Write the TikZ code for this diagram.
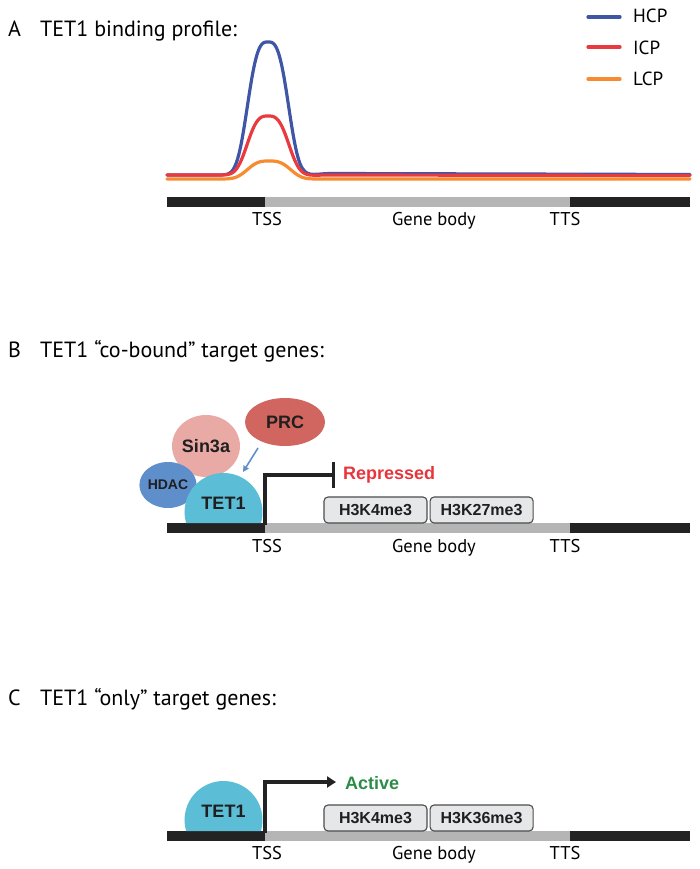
\documentclass[tikz,border=0pt]{standalone}
\usepackage{fontspec}
\setmainfont{PT Sans}
\newfontfamily\protfont{Liberation Sans}
\usetikzlibrary{arrows.meta, shapes.geometric, positioning}

\definecolor{hcpblue}{HTML}{3F56A6}
\definecolor{icpred}{HTML}{E93A3F}
\definecolor{lcporange}{HTML}{F68B2F}
\definecolor{barblack}{HTML}{232323}
\definecolor{bargray}{HTML}{B5B5B5}
\definecolor{prccol}{HTML}{D0665F}
\definecolor{sincol}{HTML}{E9AAA6}
\definecolor{hdaccol}{HTML}{5E8FCB}
\definecolor{tetcol}{HTML}{5CBED6}
\definecolor{boxgray}{HTML}{E6E7E8}
\definecolor{repred}{HTML}{E8343B}
\definecolor{actgreen}{HTML}{2C8C47}

\begin{document}
\begin{tikzpicture}[x=1pt, y=-1pt,
    heading/.style={anchor=base west, inner sep=0pt, font=\fontsize{22}{26}\selectfont},
    sitelabel/.style={anchor=base, inner sep=0pt, font=\fontsize{18.5}{22}\selectfont},
    legendlabel/.style={anchor=base west, inner sep=0pt, font=\fontsize{19}{22}\selectfont},
    protlabel/.style={inner sep=0pt, text=black!88, font=\protfont\bfseries\fontsize{18}{20}\selectfont},
    protein/.style={protlabel, ellipse},
    histbox/.style={draw=black!70, fill=boxgray, rounded corners=4pt, line width=1.1pt,
        minimum width=103pt, minimum height=26pt, inner sep=0pt, text=black!88,
        font=\protfont\bfseries\fontsize{16}{18}\selectfont},
    profile/.style={line width=3.2pt, line join=round, line cap=round},
    promoter/.style={line width=3.5pt, draw=barblack}]
    \useasboundingbox (0,0) rectangle (700,869);

    % panel A: binding profile over the gene
    \node[heading] (headA) at (8,37) {A};
    \node[heading] (titleA) at (40,37) {TET1 binding profile:};

    % legend
    \node[legendlabel] (hcp) at (633,23) {HCP};
    \node[legendlabel] (icp) at (633,55) {ICP};
    \node[legendlabel] (lcp) at (633,86) {LCP};
    \draw[profile, hcpblue] (588,17) -- (620,17);
    \draw[profile, icpred] (588,47) -- (620,47);
    \draw[profile, lcporange] (588,79) -- (620,79);

    % profile curves
    \draw[profile, hcpblue] (167,175) -- (215,175)
        -- plot[domain=215:300, samples=80] (\x, {175-133*exp(-(abs((\x-268)/23.7))^3)})
        .. controls (306,178) and (312,174) .. (330,173.5) -- (690,174.5);
    \draw[profile, icpred] (167,175) -- (215,175)
        -- plot[domain=215:300, samples=80] (\x, {175-59*exp(-(abs((\x-268)/24))^3)})
        .. controls (306,177) and (312,175) .. (330,175) -- (690,175.5);
    \draw[profile, lcporange] (167,179) -- (215,179)
        -- plot[domain=215:325, samples=80] (\x, {179-18*exp(-(abs((\x-269)/25))^3)})
        -- (690,179);

    % gene bar
    \fill[barblack] (167,197) rectangle (265,207);
    \fill[bargray] (265,197) rectangle (570,207);
    \fill[barblack] (570,197) rectangle (690,207);
    \node[sitelabel] (tssA) at (267,225) {TSS};
    \node[sitelabel] (bodyA) at (434,225) {Gene body};
    \node[sitelabel] (ttsA) at (565,225) {TTS};

    % panel B: co-bound targets
    \node[heading] (headB) at (8,357) {B};
    \node[heading] (titleB) at (40,357) {TET1 “co-bound” target genes:};

    \fill[barblack] (167,523) rectangle (265,533);
    \fill[bargray] (265,523) rectangle (570,533);
    \fill[barblack] (570,523) rectangle (690,533);
    \node[sitelabel] (tssB) at (267,552) {TSS};
    \node[sitelabel] (bodyB) at (434,552) {Gene body};
    \node[sitelabel] (ttsB) at (565,552) {TTS};

    % partner complexes
    \node[protein, fill=sincol, minimum width=65pt, minimum height=62pt] (sin3a) at (206,446) {Sin3a};
    \node[protein, fill=hdaccol, minimum width=54pt, minimum height=46pt,
        font=\protfont\bfseries\fontsize{14}{16}\selectfont] (hdac) at (168,485) {HDAC};
    \node[protein, fill=prccol, minimum width=80pt, minimum height=48pt] (prc) at (285,422) {PRC};
    \fill[tetcol] (260.9,523) arc[start angle=16.4, end angle=-196.4, radius=39] -- cycle;
    \node[protlabel] (tetB) at (223.5,503) {TET1};

    % recruitment arrow
    \coordinate (prcFrom) at (258,448);
    \coordinate (tetTo) at (243,472);
    \draw[hdaccol, line width=1.6pt, -{Triangle[length=6pt, width=6pt]}] (prcFrom) -- (tetTo);

    % repressed promoter
    \coordinate (startB) at (265,525);
    \coordinate (stopB) at (335,475);
    \draw[promoter, -{Bar[width=26pt]}] (startB) |- (stopB);
    \node[protlabel, anchor=west, text=repred] (repB) at (343,475) {Repressed};

    % histone marks
    \node[histbox] (k4B) at (375.5,510) {H3K4me3};
    \node[histbox, right=2pt of k4B] (k27B) {H3K27me3};

    % panel C: TET1-only targets
    \node[heading] (headC) at (8,705) {C};
    \node[heading] (titleC) at (40,705) {TET1 “only” target genes:};

    \fill[barblack] (167,831) rectangle (265,841);
    \fill[bargray] (265,831) rectangle (570,841);
    \fill[barblack] (570,831) rectangle (690,841);
    \node[sitelabel] (tssC) at (267,859) {TSS};
    \node[sitelabel] (bodyC) at (434,859) {Gene body};
    \node[sitelabel] (ttsC) at (565,859) {TTS};

    \fill[tetcol] (260.9,831) arc[start angle=16.4, end angle=-196.4, radius=39] -- cycle;
    \node[protlabel] (tetC) at (223.5,811) {TET1};

    % active promoter
    \coordinate (startC) at (265,833);
    \coordinate (stopC) at (336,782);
    \draw[promoter, -{Triangle[length=9pt, width=11pt]}] (startC) |- (stopC);
    \node[protlabel, anchor=west, text=actgreen] (actC) at (345,783) {Active};

    \node[histbox] (k4C) at (375.5,818) {H3K4me3};
    \node[histbox, right=2pt of k4C] (k36C) {H3K36me3};
\end{tikzpicture}
\end{document}
